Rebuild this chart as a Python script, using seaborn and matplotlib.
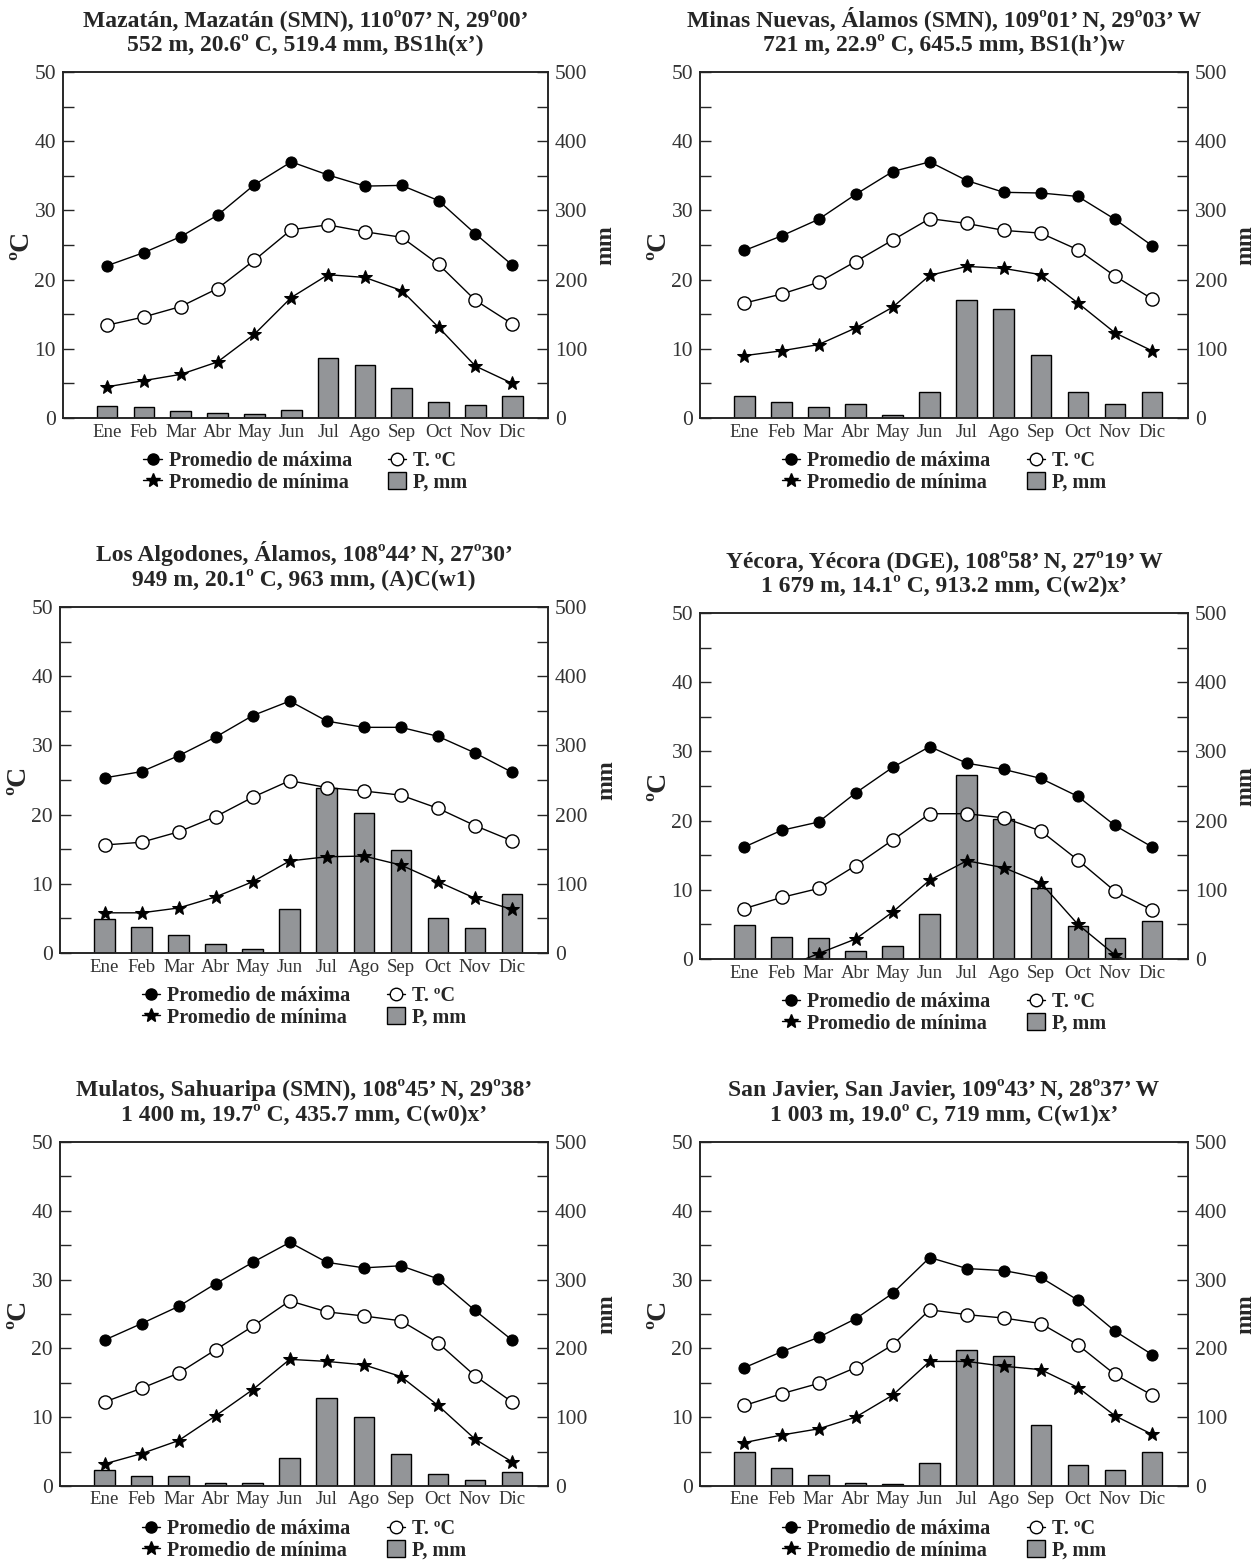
import numpy as np
import pandas as pd
import matplotlib.pyplot as plt
from matplotlib.lines import Line2D
from matplotlib.patches import Patch
import seaborn as sns

months = ["Ene", "Feb", "Mar", "Abr", "May", "Jun", "Jul", "Ago", "Sep", "Oct", "Nov", "Dic"]

# Mazatán
maz_title = "Mazatán, Mazatán (SMN), 110º07’ N, 29º00’\n552 m, 20.6º C, 519.4 mm, BS1h(x’)"
maz_max = [22.0, 23.9, 26.2, 29.3, 33.7, 37.0, 35.1, 33.5, 33.6, 31.4, 26.6, 22.1]
maz_med = [13.4, 14.6, 16.1, 18.7, 22.8, 27.2, 27.9, 26.9, 26.1, 22.2, 17.0, 13.6]
maz_min = [4.5, 5.4, 6.3, 8.1, 12.1, 17.4, 20.7, 20.3, 18.4, 13.1, 7.5, 5.0]
maz_p = [17.7, 15.8, 10.5, 6.7, 5.3, 11.0, 87.2, 77.1, 43.6, 23.5, 18.2, 31.1]

# Minas Nuevas
min_title = "Minas Nuevas, Álamos (SMN), 109º01’ N, 29º03’ W\n721 m, 22.9º C, 645.5 mm, BS1(h’)w"
min_max = [24.2, 26.3, 28.7, 32.3, 35.6, 37.0, 34.3, 32.6, 32.5, 32.0, 28.7, 24.9]
min_med = [16.6, 17.9, 19.6, 22.6, 25.7, 28.8, 28.1, 27.1, 26.7, 24.3, 20.5, 17.2]
min_min = [9.0, 9.7, 10.6, 13.0, 16.0, 20.6, 21.9, 21.6, 20.7, 16.6, 12.3, 9.7]
min_p = [31.1, 23.0, 15.3, 19.6, 3.8, 37.4, 171.0, 157.6, 91.5, 37.4, 19.6, 37.8]

# Los Algodones
alg_title = "Los Algodones, Álamos, 108º44’ N, 27º30’\n949 m, 20.1º C, 963 mm, (A)C(w1)"
alg_max = [25.3, 26.2, 28.5, 31.2, 34.3, 36.4, 33.5, 32.6, 32.6, 31.3, 28.9, 26.1]
alg_med = [15.6, 16.0, 17.5, 19.7, 22.5, 24.9, 23.9, 23.4, 22.8, 20.9, 18.4, 16.2]
alg_min = [5.8, 5.8, 6.5, 8.1, 10.3, 13.3, 13.9, 14.0, 12.7, 10.3, 7.9, 6.3]
alg_p = [48.4, 37.8, 26.3, 13.4, 5.3, 63.2, 239.0, 202.6, 149.0, 50.3, 35.9, 85.2]

# Yécora
yec_title = "Yécora, Yécora (DGE), 108º58’ N, 27º19’ W\n1 679 m, 14.1º C, 913.2 mm, C(w2)x’"
yec_max = [16.2, 18.6, 19.8, 24.0, 27.7, 30.7, 28.3, 27.4, 26.1, 23.5, 19.3, 16.2]
yec_med = [7.3, 8.9, 10.2, 13.5, 17.2, 21.0, 21.0, 20.4, 18.5, 14.3, 9.8, 7.1]
yec_min = [-2.5, -1.4, 0.8, 2.9, 6.8, 11.4, 14.2, 13.2, 11.0, 5.0, 0.6, -2.0]
yec_p = [49.3, 31.6, 30.2, 11.0, 19.2, 65.6, 265.3, 202.6, 102.0, 48.4, 30.2, 54.6]

# Mulatos
mul_title = "Mulatos, Sahuaripa (SMN), 108º45’ N, 29º38’\n1 400 m, 19.7º C, 435.7 mm, C(w0)x’"
mul_max = [21.2, 23.6, 26.1, 29.4, 32.5, 35.4, 32.5, 31.7, 32.0, 30.1, 25.5, 21.2]
mul_med = [12.2, 14.2, 16.4, 19.8, 23.2, 26.9, 25.3, 24.7, 24.0, 20.8, 16.0, 12.2]
mul_min = [3.2, 4.7, 6.6, 10.2, 14.0, 18.4, 18.1, 17.6, 15.9, 11.7, 6.8, 3.5]
mul_p = [23.0, 14.9, 14.9, 4.3, 3.8, 41.2, 128.0, 99.8, 47.0, 17.3, 8.2, 20.1]

# San Javier
sjv_title = "San Javier, San Javier, 109º43’ N, 28º37’ W\n1 003 m, 19.0º C, 719 mm, C(w1)x’"
sjv_max = [17.2, 19.5, 21.6, 24.3, 28.0, 33.2, 31.6, 31.3, 30.3, 27.0, 22.5, 19.1]
sjv_med = [11.7, 13.4, 14.9, 17.2, 20.5, 25.6, 24.9, 24.4, 23.6, 20.5, 16.2, 13.2]
sjv_min = [6.3, 7.4, 8.3, 10.0, 13.2, 18.1, 18.1, 17.4, 16.9, 14.3, 10.2, 7.5]
sjv_p = [48.9, 26.8, 15.3, 3.8, 3.4, 33.0, 197.3, 188.2, 89.1, 30.7, 22.5, 49.8]

sns.set_style("ticks")
plt.rcParams["font.family"] = ["Liberation Serif", "DejaVu Serif"]

BAR = "#939598"

fig = plt.figure(figsize=(12.59, 15.63), dpi=100)


def climograma(rect, title, tmax, tmed, tmin, prec):
    ax = fig.add_axes(rect)
    ax2 = ax.twinx()
    ax.set_zorder(ax2.get_zorder() + 1)
    ax.patch.set_visible(False)

    df = pd.DataFrame({"mes": months, "pos": np.arange(12), "max": tmax,
                       "med": tmed, "min": tmin, "p": prec})

    sns.barplot(data=df, x="mes", y="p", ax=ax2, color=BAR, saturation=1,
                edgecolor="black", linewidth=1, width=0.56)
    sns.lineplot(data=df, x="pos", y="max", ax=ax, color="black", lw=1,
                 marker="o", markersize=8, markerfacecolor="black",
                 markeredgecolor="black")
    sns.lineplot(data=df, x="pos", y="med", ax=ax, color="black", lw=1,
                 marker="o", markersize=9.5, markerfacecolor="white",
                 markeredgecolor="black", markeredgewidth=1)
    sns.lineplot(data=df, x="pos", y="min", ax=ax, color="black", lw=1,
                 marker="*", markersize=10, markerfacecolor="black",
                 markeredgecolor="black")

    ax.set_ylim(0, 50)
    ax.set_yticks(range(0, 51, 10))
    ax.set_yticks(range(5, 50, 10), minor=True)
    ax2.set_ylim(0, 500)
    ax2.set_yticks(range(0, 501, 100))
    ax2.set_yticks(range(50, 500, 100), minor=True)
    ax.set_xticks(range(12))
    ax.set_xticklabels(months)
    ax.set_xlim(-1.2, 11.97)

    ax.tick_params(axis="y", which="both", direction="in", length=8, width=1,
                   labelsize=15.5, labelcolor="#333333", pad=5)
    ax2.tick_params(axis="y", which="both", direction="in", length=8, width=1,
                    labelsize=15.5, labelcolor="#333333", pad=5)
    ax.tick_params(axis="x", length=0, labelsize=13.5, labelcolor="#333333", pad=4)

    ax.set_xlabel("")
    ax.set_ylabel("ºC", fontsize=20, fontweight="bold", labelpad=0)
    ax2.set_ylabel("mm", fontsize=17, fontweight="bold", labelpad=6)
    ax.set_title(title, fontsize=17, fontweight="bold", pad=16, linespacing=1.1)

    for sp in list(ax.spines.values()) + list(ax2.spines.values()):
        sp.set_linewidth(1.1)
        sp.set_color("#222222")

    handles = [
        Line2D([], [], color="black", lw=1, marker="o", markersize=8),
        Line2D([], [], color="black", lw=1, marker="*", markersize=10),
        Line2D([], [], color="black", lw=1, marker="o", markersize=9,
               markerfacecolor="white"),
        Patch(facecolor=BAR, edgecolor="black"),
    ]
    labels = ["Promedio de máxima", "Promedio de mínima", "T. ºC", "P, mm"]
    ax.legend(handles=handles, labels=labels, ncol=2, loc="upper center",
              bbox_to_anchor=(0.5, -0.055), frameon=False, handlelength=0.9,
              handleheight=0.9, handletextpad=0.35, columnspacing=1.8,
              labelspacing=0.05, borderpad=0.2,
              prop={"weight": "bold", "size": 14.5})


climograma([0.0500, 0.7326, 0.3852, 0.2214], maz_title, maz_max, maz_med, maz_min, maz_p)
climograma([0.5560, 0.7326, 0.3876, 0.2214], min_title, min_max, min_med, min_min, min_p)
climograma([0.0477, 0.3903, 0.3876, 0.2214], alg_title, alg_max, alg_med, alg_min, alg_p)
climograma([0.5560, 0.3864, 0.3876, 0.2214], yec_title, yec_max, yec_med, yec_min, yec_p)
climograma([0.0477, 0.0493, 0.3876, 0.2201], mul_title, mul_max, mul_med, mul_min, mul_p)
climograma([0.5560, 0.0493, 0.3876, 0.2201], sjv_title, sjv_max, sjv_med, sjv_min, sjv_p)

fig.savefig("out.png", dpi=100, facecolor="white")
